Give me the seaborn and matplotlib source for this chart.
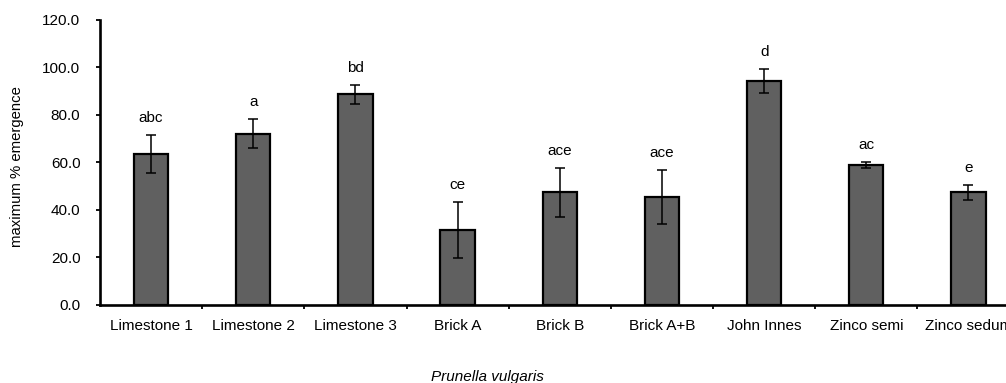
import matplotlib
matplotlib.use("Agg")
import matplotlib.pyplot as plt
from matplotlib.ticker import FixedLocator, FormatStrFormatter
import seaborn as sns
import numpy as np

categories = ["Limestone 1", "Limestone 2", "Limestone 3", "Brick A", "Brick B",
              "Brick A+B", "John Innes", "Zinco semi", "Zinco sedum"]
emergence = [63.7, 72.1, 88.7, 31.6, 47.4, 45.5, 94.2, 58.8, 47.4]
std_error = [8.0, 6.2, 3.9, 11.9, 10.2, 11.2, 5.0, 1.2, 3.0]
letters = ["abc", "a", "bd", "ce", "ace", "ace", "d", "ac", "e"]

sns.set_theme(style="white")
plt.rcParams["font.family"] = ["Liberation Sans", "DejaVu Sans"]

FS = 11

fig = plt.figure(figsize=(10.06, 3.83), dpi=100)
ax = fig.add_axes([0.0994, 0.2037, 0.9141, 0.7441])

sns.barplot(x=categories, y=emergence, color="#606060", width=0.335,
            edgecolor="black", linewidth=1.6, saturation=1, ax=ax)

xpos = np.arange(len(categories))
ax.errorbar(xpos, emergence, yerr=std_error, fmt="none", ecolor="black",
            elinewidth=1.1, capsize=3.7, capthick=1.1)

# significance letters above each error bar
for x, y, e, lab in zip(xpos, emergence, std_error, letters):
    ax.annotate(lab, (x, y + e), xytext=(0, 12.3), textcoords="offset points",
                ha="center", va="center", fontsize=FS, color="black")

ax.set_xlim(-0.5, len(categories) - 0.5)
ax.set_ylim(0, 120)
ax.yaxis.set_major_locator(FixedLocator(np.arange(0, 121, 20)))
ax.yaxis.set_major_formatter(FormatStrFormatter("%.1f"))

ax.xaxis.set_minor_locator(FixedLocator(np.arange(0.5, len(categories) - 0.5, 1)))
ax.tick_params(axis="x", which="major", length=0, pad=10, labelsize=FS, colors="black")
ax.tick_params(axis="x", which="minor", length=3, width=1.3, direction="out",
               bottom=True, color="black")
ax.tick_params(axis="y", which="major", length=2.6, width=1.3, direction="out",
               left=True, labelsize=FS, colors="black", pad=11.5)

for side in ["top", "right"]:
    ax.spines[side].set_visible(False)
for side in ["left", "bottom"]:
    ax.spines[side].set_color("black")
    ax.spines[side].set_linewidth(1.9)

ax.set_xlabel("")
ax.set_ylabel("")
fig.text(17 / 1006, 1 - 167 / 383, "maximum % emergence", rotation=90,
         fontsize=10.7, ha="center", va="center", color="black")
fig.text(0.485, 1 - 377 / 383, "Prunella vulgaris", fontsize=FS, style="italic",
         ha="center", va="center", color="black")

fig.savefig("out.png", dpi=100)
